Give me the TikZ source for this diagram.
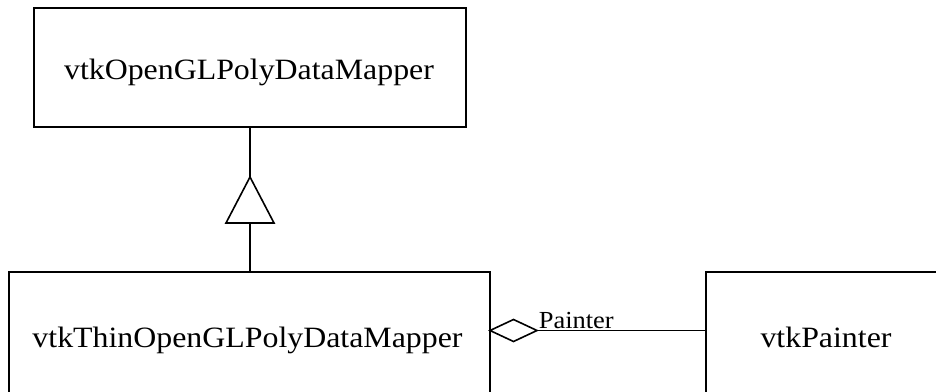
\documentclass[tikz,border=0pt]{standalone}
\usepackage{fontspec}
\setmainfont{Liberation Serif}[FakeStretch=1.08]
\begin{document}
\begin{tikzpicture}[x=1pt,y=-1pt,line width=1.6pt,
  classbox/.style={draw,rectangle,inner sep=0pt},
  classname/.style={font=\fontsize{29.5}{34}\selectfont,inner sep=0pt,anchor=base},
  rolename/.style={font=\fontsize{24.5}{29}\selectfont,inner sep=0pt,anchor=base west}]
\useasboundingbox (0,0) rectangle (936,391);
\begin{scope}
  \clip (0,0) rectangle (936,391);
  % class boxes (the lower ones run past the bottom edge)
  \node[classbox,minimum width=432pt,minimum height=119pt] (gl) at (250,67.5) {};
  \node[classbox,minimum width=481pt,minimum height=150pt] (thin) at (249.5,347) {};
  \node[classbox,minimum width=242pt,minimum height=150pt] (painter) at (827,347) {};
\end{scope}

% class names
\node[classname] (glname) at (249,79.5) {vtkOpenGLPolyDataMapper};
\node[classname] (thinname) at (247.5,347.5) {vtkThinOpenGLPolyDataMapper};
\node[classname] (paintername) at (826,347.5) {vtkPainter};

% generalization: hollow triangle pointing to the superclass
\coordinate (apex) at (250,177);
\coordinate (tl) at (226,223);
\coordinate (tr) at (274,223);
\coordinate (tb) at (250,223);
\draw (gl.south) -- (apex);
\draw (apex) -- (tr) -- (tl) -- cycle;
\draw (tb) -- (tb |- thin.north);

% aggregation: hollow diamond at the owning class
\coordinate (dl) at (490,330.5);
\coordinate (dt) at (513.5,319.5);
\coordinate (dr) at (537,330.5);
\coordinate (db) at (513.5,341.5);
\draw (dl) -- (dt) -- (dr) -- (db) -- cycle;
\draw (dr) -- (dr -| painter.west);
\node[rolename] (role) at (538,328.5) {Painter};
\end{tikzpicture}
\end{document}
